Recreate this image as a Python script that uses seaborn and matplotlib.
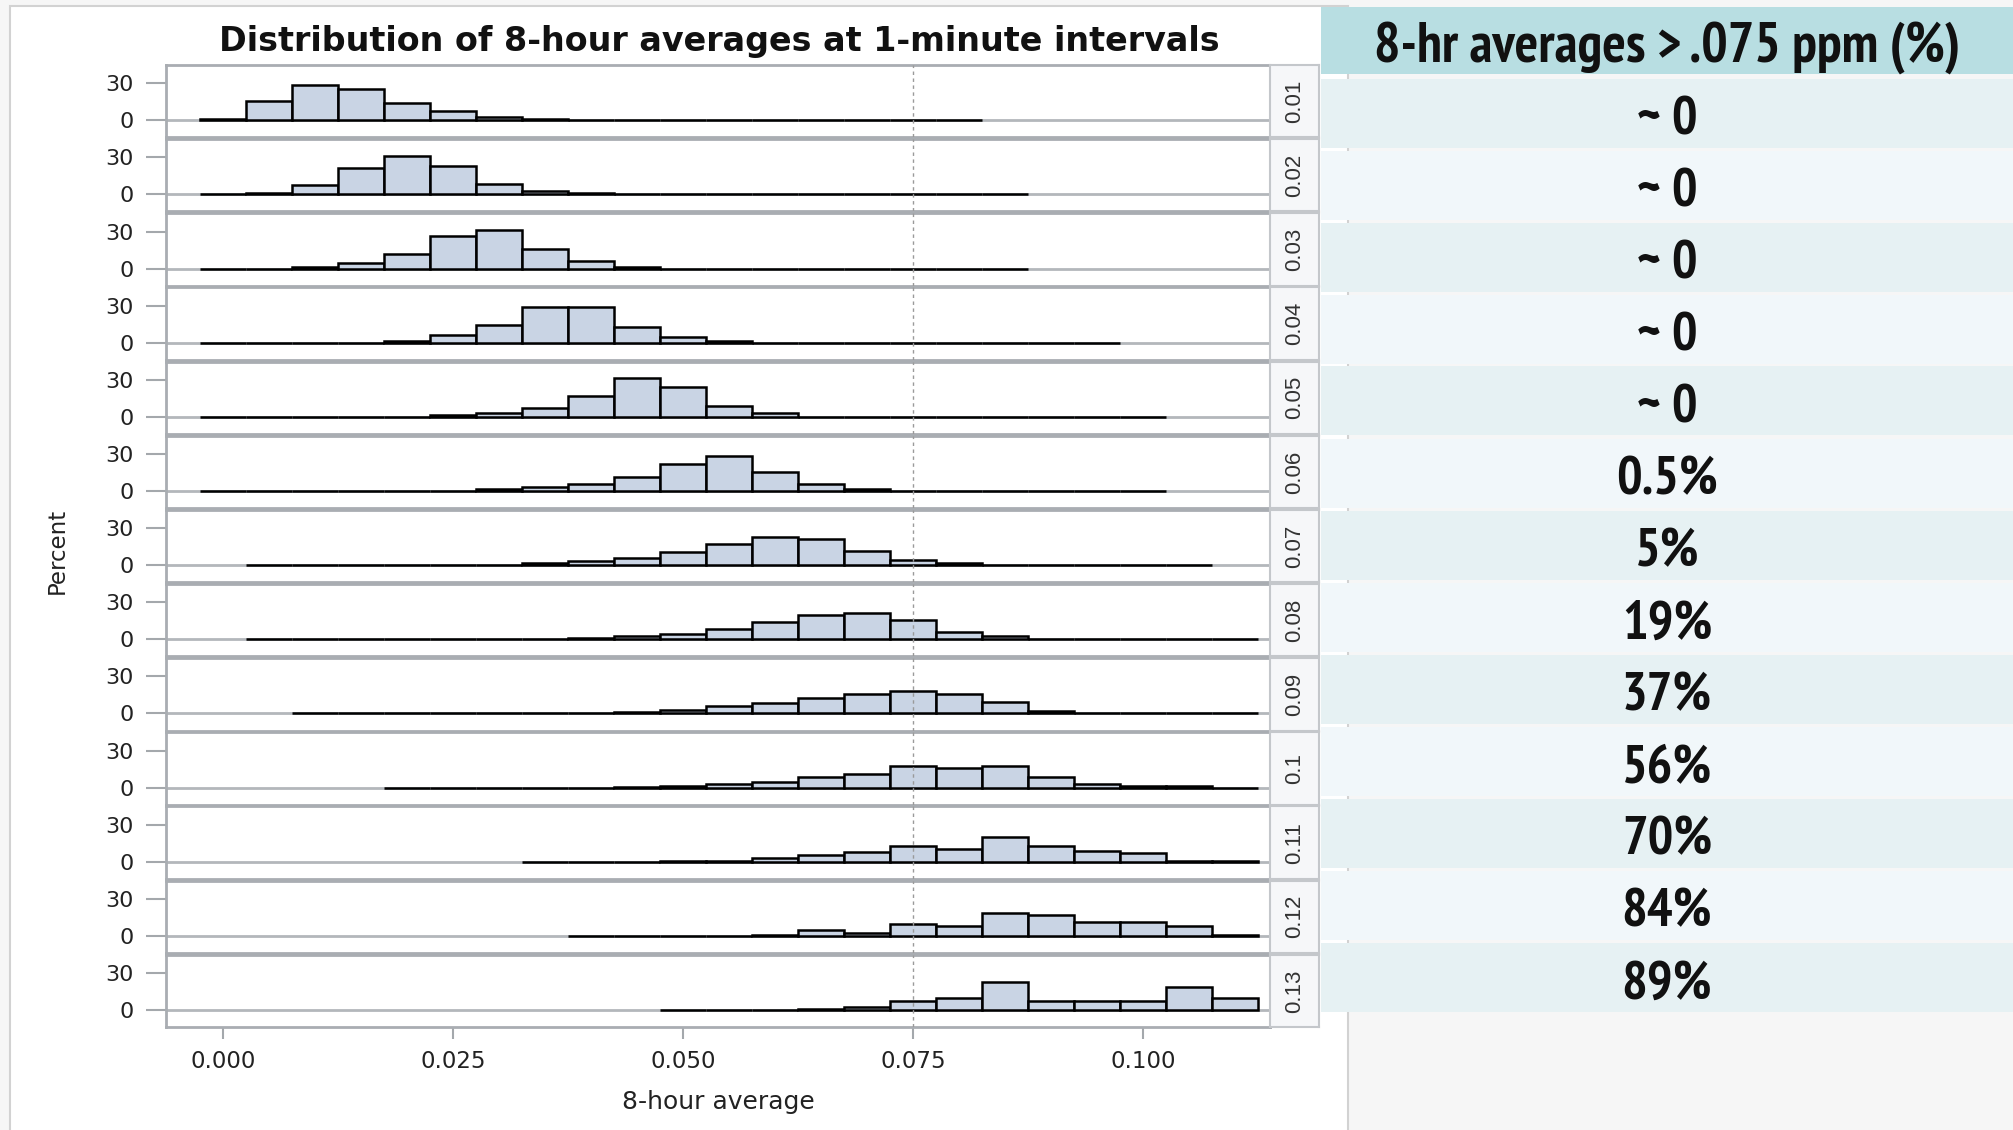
import numpy as np
import pandas as pd
import matplotlib
matplotlib.use("Agg")
import matplotlib.pyplot as plt
import seaborn as sns
from matplotlib.patches import Rectangle
from matplotlib import font_manager as fm

# ---------------- data ----------------
levels = ["0.01", "0.02", "0.03", "0.04", "0.05", "0.06", "0.07",
          "0.08", "0.09", "0.1", "0.11", "0.12", "0.13"]
bin_width = 0.005
# centre of the first drawn bin in each panel
first_bin = [0.000, 0.000, 0.000, 0.000, 0.000, 0.000, 0.005,
             0.005, 0.010, 0.020, 0.035, 0.040, 0.050]

pct_001 = [1.4, 15.7, 28.6, 25.7, 14.3, 7.3, 2.7, 0.8, 0, 0, 0, 0, 0, 0, 0, 0, 0]
pct_002 = [0, 1.0, 7.3, 21.4, 31.4, 22.7, 8.4, 3.0, 1.0, 0, 0, 0, 0, 0, 0, 0, 0, 0]
pct_003 = [0, 0, 1.0, 4.9, 11.9, 26.0, 31.4, 16.0, 6.2, 1.2, 0, 0, 0, 0, 0, 0, 0, 0]
pct_004 = [0, 0, 0, 0, 1.0, 5.9, 14.3, 28.9, 28.9, 13.0, 4.9, 1.6, 0, 0, 0, 0, 0, 0, 0, 0]
pct_005 = [0, 0, 0, 0, 0, 1.5, 3.5, 7.0, 17.3, 31.6, 24.3, 8.6, 3.2, 0, 0, 0, 0, 0, 0, 0, 0]
pct_006 = [0, 0, 0, 0, 0, 0, 1.5, 3.5, 5.9, 11.6, 21.6, 28.6, 15.7, 5.7, 1.5, 0, 0, 0, 0, 0, 0]
pct_007 = [0, 0, 0, 0, 0, 0, 1.5, 3.0, 5.7, 10.3, 17.3, 23.0, 21.4, 11.4, 4.0, 1.5, 0, 0, 0, 0, 0]
pct_008 = [0, 0, 0, 0, 0, 0, 0, 1.0, 2.7, 4.0, 8.6, 14.0, 19.7, 21.4, 15.7, 5.7, 2.7, 0, 0, 0, 0, 0]
pct_009 = [0, 0, 0, 0, 0, 0, 0, 1.3, 2.7, 6.0, 8.6, 12.7, 15.7, 18.6, 15.7, 9.7, 2.4, 0, 0, 0, 0]
pct_010 = [0, 0, 0, 0, 0, 0.8, 1.0, 2.7, 4.3, 8.4, 11.4, 17.3, 15.7, 17.3, 8.6, 2.7, 1.0, 1.0, 0]
pct_011 = [0, 0, 0, 0.7, 0.7, 2.7, 5.4, 8.1, 12.7, 10.0, 20.0, 12.7, 8.4, 7.0, 1.0, 1.0]
pct_012 = [0, 0, 0, 0, 1.0, 4.6, 2.7, 10.0, 8.4, 18.6, 17.0, 11.0, 11.0, 8.4, 1.0]
pct_013 = [0, 0, 0, 0.5, 2.7, 7.0, 9.7, 22.7, 7.0, 7.0, 7.0, 18.4, 9.5]

percents = [pct_001, pct_002, pct_003, pct_004, pct_005, pct_006, pct_007,
            pct_008, pct_009, pct_010, pct_011, pct_012, pct_013]

x_ticks = [0.000, 0.025, 0.050, 0.075, 0.100]
x_tick_labels = ["0.000", "0.025", "0.050", "0.075", "0.100"]
y_ticks = [0, 30]
standard = 0.075

table_header = "8-hr averages > .075 ppm (%)"
table_values = ["~ 0", "~ 0", "~ 0", "~ 0", "~ 0", "0.5%", "5%", "19%",
                "37%", "56%", "70%", "84%", "89%"]

rows = []
for lev, start, vals in zip(levels, first_bin, percents):
    for k, v in enumerate(vals):
        rows.append({"level": lev, "center": round(start + k * bin_width, 4), "pct": v})
df = pd.DataFrame(rows)

# ---------------- style ----------------
sns.set_theme(style="white")
plt.rcParams["font.family"] = ["DejaVu Sans"]


def _weight_num(w):
    if isinstance(w, (int, float)):
        return w
    return {"bold": 700, "heavy": 800, "black": 900, "semibold": 600,
            "demibold": 600, "extra bold": 800}.get(str(w).lower(), 400)


def pick_narrow_bold():
    best = None
    for f in fm.fontManager.ttflist:
        nm = f.name
        if "Serif" in nm or "Mono" in nm or "CJK" in nm:
            continue
        if _weight_num(f.weight) < 650 or _weight_num(f.weight) > 750:
            continue
        if str(getattr(f, "style", "normal")) != "normal":
            continue
        st = str(f.stretch).lower()
        fn = f.fname.lower()
        if "narrow" in nm.lower() or "narrow" in fn:
            rank = 0
        elif "semi" in st or "semicondensed" in fn:
            rank = 1
        elif st == "condensed" or ("condensed" in fn and "extra" not in fn and "ultra" not in fn):
            rank = 2
        else:
            continue
        if best is None or rank < best[0]:
            best = (rank, f.fname)
    return best[1] if best else None


narrow_path = pick_narrow_bold()
if narrow_path:
    table_fp = fm.FontProperties(fname=narrow_path)
else:
    table_fp = fm.FontProperties(family=["Liberation Sans", "DejaVu Sans"], weight="bold")

W, H = 2013, 1130
fig = plt.figure(figsize=(W / 100, H / 100), dpi=100)
fig.patch.set_facecolor("#f6f6f6")


def fx(px):
    return px / W


def fy(py):
    return 1 - py / H


# white card behind the chart
fig.add_artist(Rectangle((fx(10), fy(1135)), fx(1348) - fx(10), (1135 - 6) / H,
                         transform=fig.transFigure, facecolor="white",
                         edgecolor="#d2d2d2", lw=1.5, zorder=-5))

bar_face = "#c9d4e4"
frame_col = "#a9adb2"
left, right, strip_r = 166, 1270, 1319
top0, pitch, ph = 65, 74.15, 72.3

axes = []
for i, lev in enumerate(levels):
    top = top0 + pitch * i
    ax = fig.add_axes([fx(left), fy(top + ph), fx(right) - fx(left), ph / H])
    sub = df[df["level"] == lev]
    edges = [round(c - bin_width / 2, 4) for c in sub["center"]]
    edges.append(round(sub["center"].iloc[-1] + bin_width / 2, 4))
    ax.axhline(0, color="#b3b7bb", lw=2, zorder=0.5)
    sns.histplot(data=sub, x="center", weights="pct", bins=edges, ax=ax,
                 color=bar_face, edgecolor="black", linewidth=1.8, alpha=1,
                 zorder=2)
    ax.axvline(standard, color="#9a9a9a", lw=1, ls=(0, (2.5, 2.5)), zorder=3)
    ax.set_xlim(-0.0062, 0.1138)
    ax.set_ylim(-13.8, 44.8)
    ax.set_yticks(y_ticks)
    ax.set_yticklabels([str(t) for t in y_ticks])
    ax.set_ylabel("")
    ax.set_xlabel("")
    ax.tick_params(axis="y", left=True, length=14.4, width=1.5, color="#a4a8ac",
                   labelsize=16, labelcolor="#222222", pad=9)
    for s in ax.spines.values():
        s.set_color(frame_col)
        s.set_linewidth(2)
    if i < len(levels) - 1:
        ax.tick_params(axis="x", bottom=False, labelbottom=False)
    else:
        ax.set_xticks(x_ticks)
        ax.set_xticklabels(x_tick_labels)
        ax.tick_params(axis="x", bottom=True, length=8.6, width=1.5, color="#a4a8ac",
                       labelsize=16.5, labelcolor="#222222", pad=8)
        ax.set_xlabel("8-hour average", fontsize=18, color="#222222", labelpad=12)
    axes.append(ax)

    # strip label on the right
    sax = fig.add_axes([fx(right), fy(top + ph), fx(strip_r) - fx(right), ph / H])
    sax.set_facecolor("#f6f7f9")
    sax.set_xticks([])
    sax.set_yticks([])
    for s in sax.spines.values():
        s.set_color("#c4c7cb")
        s.set_linewidth(1.5)
    sax.text(0.5, 0.5, lev, rotation=90, ha="center", va="center",
             fontsize=16, color="#333333", family=["Liberation Sans", "DejaVu Sans"],
             transform=sax.transAxes)

fig.text(fx(719), fy(42), "Distribution of 8-hour averages at 1-minute intervals",
         ha="center", va="center", fontsize=24, fontweight="bold", color="#111111")
fig.text(fx(57), fy(551), "Percent", rotation=90, ha="center", va="center",
         fontsize=16.5, color="#222222")

# ---------------- table on the right ----------------
tx0, tx1 = 1321, 2013
fig.add_artist(Rectangle((fx(tx0), fy(74)), fx(tx1) - fx(tx0), (74 - 7) / H,
                         transform=fig.transFigure, facecolor="#b8dee2",
                         edgecolor="none", zorder=1))
head = fig.text(fx((tx0 + tx1) / 2), fy(62), table_header, ha="center", va="baseline",
                fontproperties=table_fp, fontsize=36, color="#111111", zorder=2)

# size the table font: header about as wide as in the reference, capped by height
renderer = fig.canvas.get_renderer()
w_now = head.get_window_extent(renderer).width
size = min(36 * 661.0 / w_now, 40)
head.set_fontsize(size)
cell_size = size * 0.97
cap_px = 0.714 * cell_size * 100 / 72.0

row_top, row_h = 77, 72
for i, val in enumerate(table_values):
    y0 = row_top + row_h * i + 1.5
    col = "#e6f1f3" if i % 2 == 0 else "#f1f7fa"
    fig.add_artist(Rectangle((fx(tx0), fy(y0 + row_h - 3)), fx(tx1) - fx(tx0), (row_h - 3) / H,
                             transform=fig.transFigure, facecolor=col,
                             edgecolor="none", zorder=1))
    centre = y0 + (row_h - 3) / 2 + 2
    fig.text(fx((tx0 + tx1) / 2), fy(centre + cap_px / 2), val, ha="center", va="baseline",
             fontproperties=table_fp, fontsize=cell_size, color="#111111", zorder=2)

fig.savefig("out.png", dpi=100, facecolor=fig.get_facecolor())
